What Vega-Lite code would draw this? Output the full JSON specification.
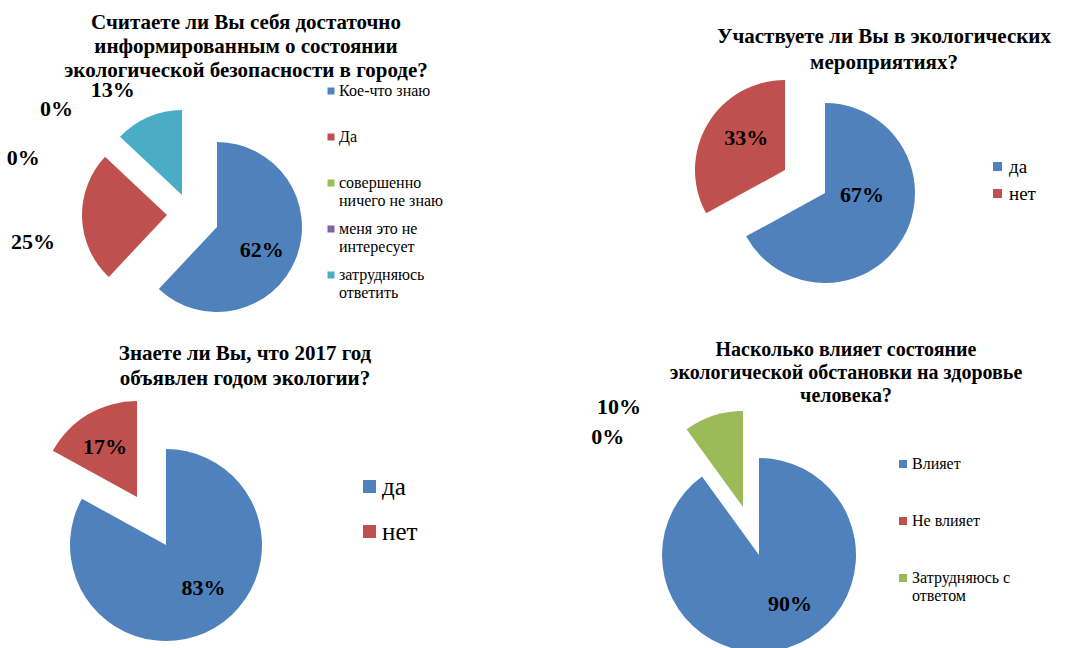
{
  "$schema": "https://vega.github.io/schema/vega-lite/v6.json",
  "autosize": {"type": "none"},
  "padding": {"left": 87, "top": 103, "right": 979, "bottom": 545},
  "background": "white",
  "bounds": "flush",
  "spacing": 359,
  "config": {"view": {"stroke": null}},
  "resolve": {"scale": {"color": "independent", "theta": "independent"}, "legend": {"color": "independent"}},
  "vconcat": [
    {
      "bounds": "flush",
      "spacing": 378,
      "resolve": {"scale": {"color": "independent", "theta": "independent"}, "legend": {"color": "independent"}},
      "hconcat": [
        {
          "width": 260, "height": 248,
          "title": {"text": ["Считаете ли Вы себя достаточно", "информированным о состоянии", "экологической безопасности в городе?"], "font": "Liberation Serif", "fontSize": 21, "fontWeight": "bold", "lineHeight": 24, "anchor": "middle", "frame": "group", "dx": 29, "dy": 29, "offset": 0, "color": "black"},
          "data": {"values": [
            {"cat": "Кое-что знаю", "v": 0.62, "o": 1},
            {"cat": "Да", "v": 0.25, "o": 2},
            {"cat": "совершенно ничего не знаю", "v": 0, "o": 3},
            {"cat": "меня это не интересует", "v": 0, "o": 4},
            {"cat": "затрудняюсь ответить", "v": 0.13, "o": 5}
          ]},
          "encoding": {
            "theta": {"field": "v", "type": "quantitative", "stack": true},
            "order": {"field": "o", "type": "quantitative"},
            "color": {"field": "cat", "type": "nominal",
              "scale": {"domain": ["Кое-что знаю", "Да", "совершенно ничего не знаю", "меня это не интересует", "затрудняюсь ответить"], "range": ["#4F81BD", "#C0504D", "#9BBB59", "#8064A2", "#4BACC6"]},
              "legend": {"orient": "none", "legendX": 236, "legendY": -20, "padding": 0, "title": null, "symbolType": "square", "symbolSize": 49, "symbolStrokeWidth": 0, "labelFont": "Liberation Serif", "labelFontSize": 16, "rowPadding": 12, "labelOffset": 0, "labelLimit": 300, "labelColor": "black",
                "labelExpr": "datum.label === 'совершенно ничего не знаю' ? ['совершенно', 'ничего не знаю'] : datum.label === 'меня это не интересует' ? ['меня это не', 'интересует'] : datum.label === 'затрудняюсь ответить' ? ['затрудняюсь', 'ответить'] : [datum.label, ' ']"}}
          },
          "layer": [
            {"mark": {"type": "arc", "outerRadius": 85}, "encoding": {"opacity": {"condition": {"test": "datum.cat === 'Кое-что знаю'", "value": 1}, "value": 0}}},
            {"mark": {"type": "arc", "outerRadius": 85, "xOffset": -50, "yOffset": -12}, "encoding": {"opacity": {"condition": {"test": "datum.cat === 'Да'", "value": 1}, "value": 0}}},
            {"mark": {"type": "arc", "outerRadius": 85, "xOffset": -35, "yOffset": -32}, "encoding": {"opacity": {"condition": {"test": "datum.cat === 'затрудняюсь ответить'", "value": 1}, "value": 0}}},
            {"mark": {"type": "text", "radius": 48, "yOffset": 5, "font": "Liberation Serif", "fontSize": 22, "fontWeight": "bold"}, "encoding": {"color": {"value": "black"}, "text": {"condition": {"test": "datum.cat === 'Кое-что знаю'", "field": "v", "type": "quantitative", "format": ".0%"}, "value": ""}}},
            {"mark": {"type": "text", "radius": 134, "xOffset": -50, "yOffset": 11, "font": "Liberation Serif", "fontSize": 22, "fontWeight": "bold"}, "encoding": {"color": {"value": "black"}, "text": {"condition": {"test": "datum.cat === 'Да'", "field": "v", "type": "quantitative", "format": ".0%"}, "value": ""}}},
            {"mark": {"type": "text", "radius": 124, "xOffset": -55, "yOffset": -23, "font": "Liberation Serif", "fontSize": 22, "fontWeight": "bold"}, "encoding": {"color": {"value": "black"}, "text": {"condition": {"test": "datum.cat === 'затрудняюсь ответить'", "field": "v", "type": "quantitative", "format": ".0%"}, "value": ""}}},
            {"mark": {"type": "text", "radius": 197, "xOffset": -17, "yOffset": 17, "font": "Liberation Serif", "fontSize": 22, "fontWeight": "bold"}, "encoding": {"color": {"value": "black"}, "text": {"condition": {"test": "datum.cat === 'совершенно ничего не знаю'", "field": "v", "type": "quantitative", "format": ".0%"}, "value": ""}}},
            {"mark": {"type": "text", "radius": 189, "xOffset": -56, "yOffset": 60, "font": "Liberation Serif", "fontSize": 22, "fontWeight": "bold"}, "encoding": {"color": {"value": "black"}, "text": {"condition": {"test": "datum.cat === 'меня это не интересует'", "field": "v", "type": "quantitative", "format": ".0%"}, "value": ""}}}
          ]
        },
        {
          "width": 200, "height": 180,
          "title": {"text": ["Участвуете ли Вы в экологических", "мероприятиях?"], "font": "Liberation Serif", "fontSize": 21, "fontWeight": "bold", "lineHeight": 26, "anchor": "middle", "frame": "group", "dx": 59, "dy": -7, "offset": 0, "color": "black"},
          "data": {"values": [
            {"cat": "да", "v": 0.67, "o": 1},
            {"cat": "нет", "v": 0.33, "o": 2}
          ]},
          "encoding": {
            "theta": {"field": "v", "type": "quantitative", "stack": true},
            "order": {"field": "o", "type": "quantitative"},
            "color": {"field": "cat", "type": "nominal",
              "scale": {"domain": ["да", "нет"], "range": ["#4F81BD", "#C0504D"]},
              "legend": {"orient": "none", "legendX": 263, "legendY": 54, "padding": 0, "title": null, "symbolType": "square", "symbolSize": 81, "symbolStrokeWidth": 0, "labelFont": "Liberation Serif", "labelFontSize": 19, "rowPadding": 7, "labelOffset": 2, "labelColor": "black"}}
          },
          "layer": [
            {"mark": {"type": "arc", "outerRadius": 90}, "encoding": {"opacity": {"condition": {"test": "datum.cat === 'да'", "value": 1}, "value": 0}}},
            {"mark": {"type": "arc", "outerRadius": 90, "xOffset": -40, "yOffset": -23}, "encoding": {"opacity": {"condition": {"test": "datum.cat === 'нет'", "value": 1}, "value": 0}}},
            {"mark": {"type": "text", "radius": 43, "yOffset": -20, "font": "Liberation Serif", "fontSize": 22, "fontWeight": "bold"}, "encoding": {"color": {"value": "black"}, "text": {"condition": {"test": "datum.cat === 'да'", "field": "v", "type": "quantitative", "format": ".0%"}, "value": ""}}},
            {"mark": {"type": "text", "radius": 45, "xOffset": -40, "yOffset": -32, "font": "Liberation Serif", "fontSize": 22, "fontWeight": "bold"}, "encoding": {"color": {"value": "black"}, "text": {"condition": {"test": "datum.cat === 'нет'", "field": "v", "type": "quantitative", "format": ".0%"}, "value": ""}}}
          ]
        }
      ]
    },
    {
      "bounds": "flush",
      "spacing": 414,
      "resolve": {"scale": {"color": "independent", "theta": "independent"}, "legend": {"color": "independent"}},
      "hconcat": [
        {
          "width": 158, "height": 166,
          "title": {"text": ["Знаете ли Вы, что 2017 год", "объявлен годом экологии?"], "font": "Liberation Serif", "fontSize": 21, "fontWeight": "bold", "lineHeight": 25, "anchor": "middle", "frame": "group", "dx": 79, "dy": -12, "offset": 0, "color": "black"},
          "data": {"values": [
            {"cat": "да", "v": 0.83, "o": 1},
            {"cat": "нет", "v": 0.17, "o": 2}
          ]},
          "encoding": {
            "theta": {"field": "v", "type": "quantitative", "stack": true},
            "order": {"field": "o", "type": "quantitative"},
            "color": {"field": "cat", "type": "nominal",
              "scale": {"domain": ["да", "нет"], "range": ["#4F81BD", "#C0504D"]},
              "legend": {"orient": "none", "legendX": 270, "legendY": 12, "padding": 0, "title": null, "symbolType": "square", "symbolSize": 169, "symbolStrokeWidth": 0, "labelFont": "Liberation Serif", "labelFontSize": 25, "rowPadding": 19, "labelOffset": 0, "labelColor": "black"}}
          },
          "layer": [
            {"mark": {"type": "arc", "outerRadius": 96}, "encoding": {"opacity": {"condition": {"test": "datum.cat === 'да'", "value": 1}, "value": 0}}},
            {"mark": {"type": "arc", "outerRadius": 96, "xOffset": -29, "yOffset": -48}, "encoding": {"opacity": {"condition": {"test": "datum.cat === 'нет'", "value": 1}, "value": 0}}},
            {"mark": {"type": "text", "radius": 50, "xOffset": 12, "font": "Liberation Serif", "fontSize": 22, "fontWeight": "bold"}, "encoding": {"color": {"value": "black"}, "text": {"condition": {"test": "datum.cat === 'да'", "field": "v", "type": "quantitative", "format": ".0%"}, "value": ""}}},
            {"mark": {"type": "text", "radius": 59, "xOffset": -31, "yOffset": -47, "font": "Liberation Serif", "fontSize": 22, "fontWeight": "bold"}, "encoding": {"color": {"value": "black"}, "text": {"condition": {"test": "datum.cat === 'нет'", "field": "v", "type": "quantitative", "format": ".0%"}, "value": ""}}}
          ]
        },
        {
          "width": 200, "height": 186,
          "title": {"text": ["Насколько влияет состояние", "экологической обстановки на здоровье", "человека?"], "font": "Liberation Serif", "fontSize": 20, "fontWeight": "bold", "lineHeight": 23, "anchor": "middle", "frame": "group", "dx": 87, "dy": 10, "offset": 0, "color": "black"},
          "data": {"values": [
            {"cat": "Влияет", "v": 0.90, "o": 1},
            {"cat": "Не влияет", "v": 0, "o": 2},
            {"cat": "Затрудняюсь с ответом", "v": 0.10, "o": 3}
          ]},
          "encoding": {
            "theta": {"field": "v", "type": "quantitative", "stack": true},
            "order": {"field": "o", "type": "quantitative"},
            "color": {"field": "cat", "type": "nominal",
              "scale": {"domain": ["Влияет", "Не влияет", "Затрудняюсь с ответом"], "range": ["#4F81BD", "#C0504D", "#9BBB59"]},
              "legend": {"orient": "none", "legendX": 236, "legendY": -6, "padding": 0, "title": null, "symbolType": "square", "symbolSize": 64, "symbolStrokeWidth": 0, "labelFont": "Liberation Serif", "labelFontSize": 16, "rowPadding": 23, "labelOffset": 1, "labelLimit": 300, "labelColor": "black",
                "labelExpr": "datum.label === 'Затрудняюсь с ответом' ? ['Затрудняюсь с', 'ответом'] : [datum.label, ' ']"}}
          },
          "layer": [
            {"mark": {"type": "arc", "outerRadius": 97}, "encoding": {"opacity": {"condition": {"test": "datum.cat === 'Влияет'", "value": 1}, "value": 0}}},
            {"mark": {"type": "arc", "outerRadius": 96, "xOffset": -16, "yOffset": -48}, "encoding": {"opacity": {"condition": {"test": "datum.cat === 'Затрудняюсь с ответом'", "value": 1}, "value": 0}}},
            {"mark": {"type": "text", "radius": 52, "xOffset": 15, "font": "Liberation Serif", "fontSize": 22, "fontWeight": "bold"}, "encoding": {"color": {"value": "black"}, "text": {"condition": {"test": "datum.cat === 'Влияет'", "field": "v", "type": "quantitative", "format": ".0%"}, "value": ""}}},
            {"mark": {"type": "text", "radius": 110, "xOffset": -106, "yOffset": -43, "font": "Liberation Serif", "fontSize": 22, "fontWeight": "bold"}, "encoding": {"color": {"value": "black"}, "text": {"condition": {"test": "datum.cat === 'Затрудняюсь с ответом'", "field": "v", "type": "quantitative", "format": ".0%"}, "value": ""}}},
            {"mark": {"type": "text", "radius": 184, "xOffset": -43, "yOffset": 31, "font": "Liberation Serif", "fontSize": 22, "fontWeight": "bold"}, "encoding": {"color": {"value": "black"}, "text": {"condition": {"test": "datum.cat === 'Не влияет'", "field": "v", "type": "quantitative", "format": ".0%"}, "value": ""}}}
          ]
        }
      ]
    }
  ]
}
